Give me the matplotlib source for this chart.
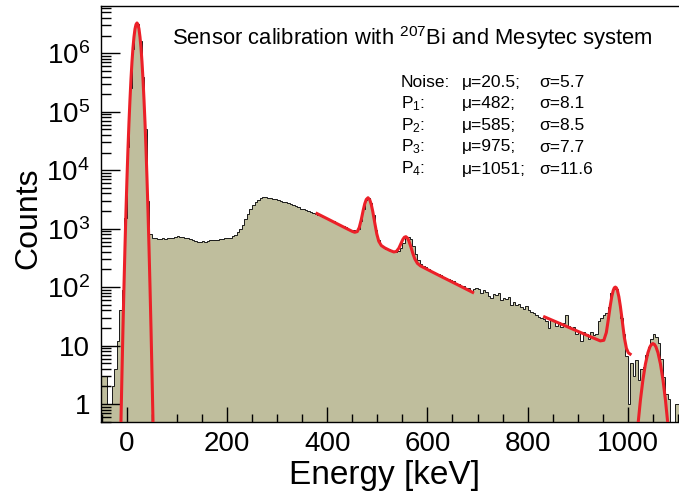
import numpy as np
import matplotlib
matplotlib.use("Agg")
import matplotlib.pyplot as plt
from matplotlib.ticker import FixedLocator, MultipleLocator, LogLocator, NullFormatter

plt.rcParams['font.family'] = ['Liberation Sans', 'DejaVu Sans']
plt.rcParams['mathtext.fontset'] = 'custom'
plt.rcParams['mathtext.rm'] = 'Liberation Sans'
plt.rcParams['mathtext.it'] = 'Liberation Sans:italic'
plt.rcParams['mathtext.bf'] = 'Liberation Sans:bold'

# histogram: 5 keV bins from -50 keV
bin_lo, bin_hi, bin_w = -50, 1110, 5
counts = [
    3, 3, 1, 1, 2, 4, 12, 40, 90, 1500,                               # -50
    25000, 250000, 1.2e6, 2.9e6, 3.2e6, 1.6e6, 4e5, 5e4, 3000, 820,   # 0
    700, 680, 670, 660, 680, 670, 690, 700, 700, 720,                 # 50
    740, 730, 720, 700, 680, 660, 640, 620, 600, 590,                 # 100
    610, 600, 620, 630, 640, 640, 650, 660, 660, 680,                 # 150
    690, 700, 740, 790, 880, 1000, 1170, 1450, 1800, 2150,            # 200
    2500, 2850, 3100, 3300, 3450, 3450, 3400, 3350, 3250, 3200,       # 250
    3100, 3000, 2900, 2800, 2700, 2600, 2500, 2400, 2300, 2200,       # 300
    2150, 2050, 1980, 1900, 1820, 1760, 1720, 1650, 1560, 1500,       # 350
    1460, 1390, 1330, 1250, 1200, 1150, 1090, 1050, 1000, 960,        # 400
    930, 900, 980, 1360, 2180, 3100, 3350, 2700, 1680, 960,           # 450
    640, 520, 480, 455, 440, 425, 410, 400, 410, 460,                 # 500
    570, 690, 730, 660, 500, 365, 285, 250, 232, 220,                 # 550
    205, 192, 180, 172, 165, 158, 150, 143, 137, 130,                 # 600
    125, 116, 114, 104, 103, 95, 98, 86, 92, 95,                      # 650
    92, 78, 88, 82, 70, 64, 75, 72, 78, 60,                           # 700
    66, 62, 69, 50, 55, 49, 52, 45, 43, 47,                           # 750
    40, 38, 36, 33, 31, 30, 28, 26, 20, 27,                           # 800
    26, 22, 25, 21, 24, 33, 22, 20, 21, 16,                           # 850
    18, 12, 17, 16, 13, 17, 15, 16, 26, 30,                           # 900
    33, 36, 45, 78, 95, 92, 60, 30, 16, 6.5,                          # 950
    1, 5, 3, 5.7, 2.6, 4, 4.3, 7, 9.6, 13,                            # 1000
    16, 14, 11, 6, 2.9, 1.5, 1.2, 0, 0, 1,                            # 1050
    1, 0,                                                             # 1100
]

# fitted curves (energy in keV, counts)
noise_fit_e = [-11.5, -9.5, -7.5, -5.5, -3.5, -1.5, 0.5, 2.5, 4.5, 6.5, 8.5,
               10.5, 12.5, 14.5, 16.5, 18.5, 20.5, 22.5, 24.5, 26.5, 28.5,
               30.5, 32.5, 34.5, 36.5, 38.5, 40.5, 42.5, 44.5, 46.5, 48.5,
               50.5, 52.5]
noise_fit_c = [0.48, 3.2, 19, 100, 470, 1950, 7100, 2.3e4, 6.5e4, 1.6e5, 3.6e5,
               7.1e5, 1.24e6, 1.9e6, 2.6e6, 3.1e6, 3.3e6, 3.1e6, 2.6e6, 1.9e6,
               1.24e6, 7.1e5, 3.6e5, 1.6e5, 6.5e4, 2.3e4, 7100, 1950, 470, 100,
               19, 3.2, 0.48]

p12_fit_e = [377, 400, 420, 440, 450, 455, 460, 464, 468, 472, 475, 478, 481.5,
             485, 488, 491, 495, 499, 503, 508, 515, 525, 533, 538, 543, 547,
             551, 554, 557, 560, 563, 567, 571, 575, 580, 586, 600, 630, 660, 693]
p12_fit_c = [1860, 1480, 1210, 990, 898, 866, 891, 1043, 1425, 2084, 2668, 3156,
             3376, 3109, 2582, 1959, 1248, 811, 607, 514, 468, 424, 399, 407,
             462, 550, 654, 712, 728, 694, 617, 488, 375, 302, 255, 231, 200,
             148, 110, 79]

p3_fit_e = [831, 850, 870, 890, 910, 930, 945, 952, 957, 961, 965, 968, 971,
            973, 975, 977, 979, 982, 985, 989, 993, 997, 1001, 1007]
p3_fit_c = [31.6, 26.9, 22.7, 19.1, 16.1, 13.6, 12.0, 12.3, 16.7, 28, 49, 70,
            89, 97.4, 100, 97, 88.6, 68.5, 47, 25.5, 13.6, 9.0, 7.5, 6.9]

p4_fit_e = [1020, 1025, 1030, 1035, 1040, 1044, 1047, 1050, 1053, 1056, 1060,
            1065, 1070, 1075, 1080]
p4_fit_c = [0.43, 1.16, 2.59, 4.83, 7.55, 9.49, 10.45, 10.8, 10.45, 9.49, 7.55,
            4.83, 2.59, 1.16, 0.43]

fit_names = ['Noise:', r'P$_{\mathregular{1}}$:', r'P$_{\mathregular{2}}$:',
             r'P$_{\mathregular{3}}$:', r'P$_{\mathregular{4}}$:']
fit_mu = ['20.5', '482', '585', '975', '1051']
fit_sigma = ['5.7', '8.1', '8.5', '7.7', '11.6']

W, H = 679, 500
fill_col = '#bfbe9d'
red = '#ec2028'

fig = plt.figure(figsize=(W / 100, H / 100), dpi=100)
ax = fig.add_axes([101 / W, 1 - 422.3 / H, (W - 101) / W, (422.3 - 6) / H])

edges = np.arange(bin_lo, bin_hi + bin_w, bin_w)
vals = np.clip(np.array(counts, dtype=float), 0.05, None)
ax.stairs(vals, edges, fill=True, baseline=0.05, color=fill_col, lw=0)
ax.stairs(vals, edges, baseline=None, color='#1a1a1a', lw=0.7)

for e, c in [(noise_fit_e, noise_fit_c), (p12_fit_e, p12_fit_c),
             (p3_fit_e, p3_fit_c), (p4_fit_e, p4_fit_c)]:
    ax.plot(e, c, color=red, lw=2.2, solid_capstyle='butt', zorder=3)

ax.set_yscale('log')
ax.set_xlim(-51.3, 1102)
ax.set_ylim(0.486, 6.44e6)

ax.xaxis.set_major_locator(MultipleLocator(200))
ax.xaxis.set_minor_locator(MultipleLocator(50))
ax.yaxis.set_major_locator(FixedLocator([1, 10, 1e2, 1e3, 1e4, 1e5, 1e6]))
ax.set_yticklabels(['1', '10'] + [r'$\mathregular{10^{%d}}$' % k for k in range(2, 7)])
ax.yaxis.set_minor_locator(LogLocator(base=10, subs=np.arange(2, 10), numticks=20))
ax.yaxis.set_minor_formatter(NullFormatter())

ax.tick_params(axis='x', which='major', direction='in', length=11, width=1.0,
               labelsize=20, pad=6)
ax.tick_params(axis='x', which='minor', direction='in', length=5.5, width=1.0)
ax.tick_params(axis='y', which='major', direction='in', length=14, width=1.0,
               labelsize=20, pad=8)
ax.tick_params(axis='y', which='minor', direction='in', length=7, width=1.0)

ax.spines['right'].set_visible(False)
for s in ['left', 'top', 'bottom']:
    ax.spines[s].set_linewidth(1.0)

ax.set_xlabel('Energy [keV]', fontsize=24)
ax.set_ylabel('Counts', fontsize=23)
ax.xaxis.set_label_coords(0.49, -0.09)
ax.yaxis.set_label_coords(-0.099, 0.49)

fig.text(172 / W, 1 - 38 / H,
         r'Sensor calibration with $^{\mathregular{207}}$Bi and Mesytec system',
         fontsize=15.8, va='center', ha='left')

# fit results block
row_y = [82.7, 103.7, 125.5, 147, 169]
renderer = fig.canvas.get_renderer()
for name, mu, sg, y in zip(fit_names, fit_mu, fit_sigma, row_y):
    fig.text(401 / W, 1 - y / H, name, fontsize=12.5, va='center', ha='left')
    t = fig.text(461.5 / W, 1 - y / H, 'μ=%s;' % mu, fontsize=12.5,
                 va='center', ha='left')
    x_end = t.get_window_extent(renderer).x1
    sx = max(539, x_end + 4)
    fig.text(sx / W, 1 - y / H, 'σ=%s' % sg, fontsize=12.5, va='center', ha='left')

fig.savefig('out.png', dpi=100)
